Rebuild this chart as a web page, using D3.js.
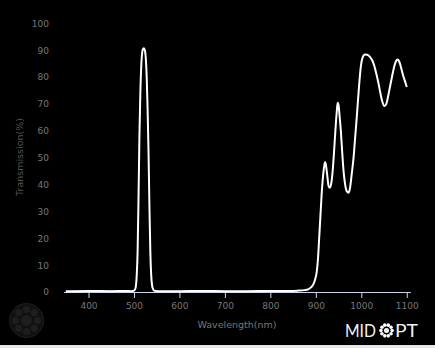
<!DOCTYPE html>
<html>
<head>
<meta charset="utf-8">
<script src="https://cdn.jsdelivr.net/npm/d3@7"></script>
<style>
  body { margin: 0; background: #000; }
  svg { display: block; }
  .tick text { font-family: "DejaVu Sans", sans-serif; font-size: 9px; fill: #777; }
</style>
</head>
<body>
<script>
// transmission curve
var wavelengths = [350, 400, 450, 480, 495, 500, 503, 506, 508, 510, 512, 514, 516, 518, 520, 522, 524, 526, 528, 530,
  532, 534, 536, 538, 541, 545, 560, 600, 650, 700, 750, 800, 840, 860, 875, 883, 890, 895, 899, 902,
  905, 907, 909, 911, 913, 915, 917, 919, 920.5, 922, 924, 926, 928, 931, 934, 937, 940, 943, 946, 948,
  950, 952, 955, 958, 961, 964, 968, 972, 975, 979, 983, 986, 990, 995, 999, 1003, 1008, 1013, 1019, 1023,
  1027, 1032, 1038, 1042, 1046, 1051, 1055, 1059, 1063, 1068, 1073, 1076, 1080, 1083, 1086, 1089, 1093, 1096, 1100];
var transmission = [0.3, 0.4, 0.3, 0.4, 0.3, 0.5, 1.2, 6, 15, 35, 58, 74, 84, 89, 90.5, 90.7, 90, 87, 80, 68,
  52, 32, 15, 6, 1.5, 0.5, 0.3, 0.3, 0.4, 0.3, 0.3, 0.4, 0.4, 0.5, 0.7, 1, 1.8, 3, 5, 7.5,
  13, 19, 25, 31, 37, 41.5, 45, 47.5, 48.4, 47.5, 45, 42, 39.5, 38.8, 40.5, 45, 52, 60, 67, 70.4,
  69.5, 66, 60, 52, 45, 40.5, 37.5, 36.9, 38.5, 44, 50, 56.5, 65, 76.5, 84, 87.3, 88.4, 88.3, 87.5, 86.5,
  85, 82, 77.5, 74, 71, 69.2, 70, 72.8, 76.3, 80.5, 84.3, 85.8, 86.5, 85.9, 84.5, 82.5, 80, 78.5, 76.3];

var xTicks = [400, 500, 600, 700, 800, 900, 1000, 1100];
var yTicks = [0, 10, 20, 30, 40, 50, 60, 70, 80, 90, 100];

var width = 435, height = 348;

var svg = d3.select("body").append("svg")
    .attr("width", width)
    .attr("height", height);

svg.append("rect").attr("width", width).attr("height", height).attr("fill", "#000");

var x = d3.scaleLinear().domain([345, 1108]).range([63.5, 410.4]);
var y = d3.scaleLinear().domain([0, 100]).range([292, 23.3]);

// y axis: labels only
var yAxis = svg.append("g")
    .attr("transform", "translate(50,0)")
    .call(d3.axisLeft(y).tickValues(yTicks).tickSize(0).tickPadding(1));
yAxis.select(".domain").remove();

// x axis
var xAxis = svg.append("g")
    .attr("transform", "translate(0," + y(0) + ")")
    .call(d3.axisBottom(x).tickValues(xTicks).tickFormat(d3.format("d"))
      .tickSize(6).tickSizeOuter(0).tickPadding(5));
xAxis.select(".domain").attr("stroke", "#ccd6eb");
xAxis.selectAll(".tick line").attr("stroke", "#ccd6eb");

svg.append("text")
    .attr("x", 237).attr("y", 328)
    .attr("text-anchor", "middle")
    .attr("font-family", "DejaVu Sans, sans-serif")
    .attr("font-size", 9.5)
    .attr("fill", "#777")
    .text("Wavelength(nm)");

svg.append("text")
    .attr("transform", "translate(23,157) rotate(-90)")
    .attr("text-anchor", "middle")
    .attr("font-family", "DejaVu Sans, sans-serif")
    .attr("font-size", 9.5)
    .attr("fill", "#555")
    .text("Transmission(%)");

var line = d3.line()
    .x(function(d, i) { return x(wavelengths[i]); })
    .y(function(d) { return y(d); })
    .curve(d3.curveMonotoneX);

svg.append("path")
    .datum(transmission)
    .attr("d", line)
    .attr("fill", "none")
    .attr("stroke", "#fff")
    .attr("stroke-width", 2);

// faint watermark bottom left
var wm = svg.append("g").attr("transform", "translate(26.5,320.5)");
wm.append("circle").attr("r", 17).attr("fill", "#111").attr("stroke", "#1e1e1e").attr("stroke-width", 1);
wm.append("circle").attr("r", 5.5).attr("fill", "#1e1e1e");
d3.range(8).forEach(function(i) {
  var a = i * Math.PI / 4;
  wm.append("circle").attr("cx", 11 * Math.cos(a)).attr("cy", 11 * Math.sin(a)).attr("r", 3.6).attr("fill", "#1e1e1e");
});

// logo
var logo = svg.append("g");
logo.append("text")
    .attr("x", 345).attr("y", 337)
    .attr("font-family", "Lato, sans-serif")
    .attr("font-size", 18)
    .attr("fill", "#f2f2f2")
    .attr("textLength", 31).attr("lengthAdjust", "spacingAndGlyphs")
    .text("MID");
logo.append("text")
    .attr("x", 395).attr("y", 337)
    .attr("font-family", "Lato, sans-serif")
    .attr("font-size", 18)
    .attr("fill", "#f2f2f2")
    .attr("textLength", 23).attr("lengthAdjust", "spacingAndGlyphs")
    .text("PT");
var flower = logo.append("g").attr("transform", "translate(386.5,330.5)");
flower.append("circle").attr("r", 2.5).attr("fill", "#fff");
d3.range(10).forEach(function(i) {
  var a = i * Math.PI / 5;
  flower.append("circle").attr("cx", 5.6 * Math.cos(a)).attr("cy", 5.6 * Math.sin(a)).attr("r", 1.8).attr("fill", "#fff");
});

// light strip along the bottom edge
svg.append("rect").attr("x", 0).attr("y", 345).attr("width", width).attr("height", 3).attr("fill", "#e6e6e6");
</script>
</body>
</html>
